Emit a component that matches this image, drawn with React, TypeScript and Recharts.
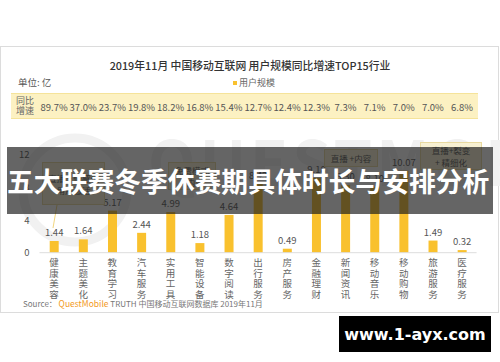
import React from 'react';
import { BarChart, Bar, XAxis, YAxis, LabelList } from 'recharts';

// 行业分类
const categories = [
  '健康美容', '主题美化', '教育学习', '汽车服务', '实用工具', '智能设备', '数字阅读', '出行服务',
  '房产服务', '金融理财', '新闻资讯', '移动音乐', '移动购物', '旅游服务', '医疗服务',
];
// 用户规模（亿）
const users = [1.44, 1.64, 5.17, 2.44, 4.99, 1.18, 4.64, 8.43, 0.49, 9.18, 8.3, 8.1, 10.07, 1.49, 0.32];
// 同比增速
const growth = [
  '89.7%', '37.0%', '23.7%', '19.8%', '18.2%', '16.8%', '15.4%', '12.7%',
  '12.4%', '12.3%', '7.3%', '7.1%', '7.0%', '7.0%', '6.8%',
];
const yTicks = [0, 4, 8, 12];

const data = categories.map((name, i) => ({ name, users: users[i], growth: growth[i] }));

const FONT = '"Noto Sans CJK SC", "Noto Sans", sans-serif';
const BAR = '#F9C12E';

const CategoryTick = (props: any) => {
  const { x, payload } = props;
  const chars = String(payload.value).split('');
  const rate = growth[payload.index];
  return (
    <g>
      <text x={x} y={111} textAnchor="middle" fontSize={9.5} fill="#555" fontFamily={FONT}>
        {rate}
      </text>
      {chars.map((c, i) => (
        <text key={i} x={x} y={266 + i * 10.6} textAnchor="middle" fontSize={9.5} fill="#666" fontFamily={FONT}>
          {c}
        </text>
      ))}
    </g>
  );
};

const noteBox = (left: number, top: number, w: number, h: number, lines: string[]) => (
  <div
    style={{
      position: 'absolute', left, top, width: w, height: h, boxSizing: 'border-box',
      background: '#f7f0d2', border: '1px solid #e8d9a0', color: '#555', fontSize: 8.5,
      fontFamily: FONT, display: 'flex', flexDirection: 'column', alignItems: 'center',
      justifyContent: 'center', lineHeight: '12px', whiteSpace: 'nowrap',
    }}
  >
    {lines.map((l, i) => <span key={i}>{l}</span>)}
  </div>
);

export default function App() {
  return (
    <div style={{ position: 'absolute', left: 0, top: 0, width: 500, height: 362, background: '#fff', fontFamily: FONT, overflow: 'hidden' }}>
      {/* card frame */}
      <div style={{ position: 'absolute', left: 0, top: 46, width: 499, height: 267, boxSizing: 'border-box', border: '1px solid #dcdcdc' }} />
      {/* watermark */}
      <svg style={{ position: 'absolute', left: 0, top: 0 }} width={500} height={362}>
        <circle cx={75} cy={190} r={52} fill="none" stroke="#f1f1f1" strokeWidth={9} />
        <text x={148} y={186} fontSize={62} fill="#f1f1f1" fontFamily={FONT} fontWeight={700} letterSpacing={4}>QUESTMOBILE</text>
      </svg>
      <div style={{ position: 'absolute', left: 0, width: 500, top: 57, textAlign: 'center', fontSize: 10.8, color: '#333', fontWeight: 500, whiteSpace: 'nowrap' }}>
        2019年11月 中国移动互联网 用户规模同比增速TOP15行业
      </div>
      <div style={{ position: 'absolute', left: 18, top: 75, fontSize: 9.5, color: '#555' }}>单位: 亿</div>
      <div style={{ position: 'absolute', left: 233, top: 81, width: 4, height: 4, background: BAR }} />
      <div style={{ position: 'absolute', left: 239, top: 76, fontSize: 9, color: '#666' }}>用户规模</div>
      {/* growth band */}
      <div style={{ position: 'absolute', left: 11, top: 93, width: 467, height: 26, background: '#fcf1c2', borderTop: '1px solid #f5e39a', borderBottom: '1px solid #f5e39a', boxSizing: 'border-box' }} />
      <div style={{ position: 'absolute', left: 16, top: 96, fontSize: 9, color: '#666', lineHeight: '10px' }}>同比<br />增速</div>

      <div style={{ position: 'absolute', left: 0, top: 0 }}>
        <BarChart width={500} height={362} data={data} margin={{ top: 155, right: 23.4, bottom: 49.3, left: 9.5 }} barCategoryGap="35%">
          <XAxis dataKey="name" height={60} interval={0} tickLine={false} axisLine={{ stroke: '#ddd' }} tick={<CategoryTick />} />
          <YAxis width={30} domain={[0, 12]} ticks={yTicks} tickLine={false} axisLine={false} tickSize={0} tickMargin={10}
            tick={{ fontSize: 9.5, fill: '#555', fontFamily: FONT }} />
          <Bar dataKey="users" fill={BAR} isAnimationActive={false}>
            <LabelList dataKey="users" position="top" offset={5} fontSize={9.5} fill="#555" fontFamily={FONT}
              formatter={(v: any) => Number(v).toFixed(2)} />
          </Bar>
        </BarChart>
      </div>

      {/* annotations */}
      {noteBox(42, 162, 63, 43, ['直播 + 情感化', '用户激活'])}
      <svg style={{ position: 'absolute', left: 0, top: 0, pointerEvents: 'none' }} width={500} height={362}>
        <line x1={57} y1={205} x2={53} y2={228} stroke="#f2d680" strokeWidth={1} />
      </svg>
      {noteBox(168, 162, 48, 28, ['免费模式', '+ 内容'])}
      {noteBox(324, 149, 54, 18, ['直播 +内容'])}
      {noteBox(420, 142, 62, 28, ['直播+裂变', '+ 精细化'])}

      {/* banner */}
      <div style={{ position: 'absolute', left: 7, top: 147, width: 486, height: 67, background: 'rgba(28,28,28,0.68)' }} />
      <div style={{ position: 'absolute', left: 7, top: 164, fontSize: 26.8, fontWeight: 700, color: '#fff', whiteSpace: 'nowrap', lineHeight: '34px' }}>
        五大联赛冬季休赛期具体时长与安排分析
      </div>

      {/* source */}
      <div style={{ position: 'absolute', left: 23, top: 297, fontSize: 8, color: '#777', whiteSpace: 'nowrap' }}>
        Source： <span style={{ color: '#f39a1e', fontSize: 8.5 }}>QuestMobile</span> TRUTH 中国移动互联网数据库 2019年11月
      </div>

      {/* site tag */}
      <div style={{ position: 'absolute', left: 339, top: 316, width: 152, height: 36, background: '#000', color: '#fff', fontFamily: '"DejaVu Sans", sans-serif', fontWeight: 700, fontSize: 16, display: 'flex', alignItems: 'center', justifyContent: 'center' }}>
        www.1-ayx.com
      </div>
    </div>
  );
}
